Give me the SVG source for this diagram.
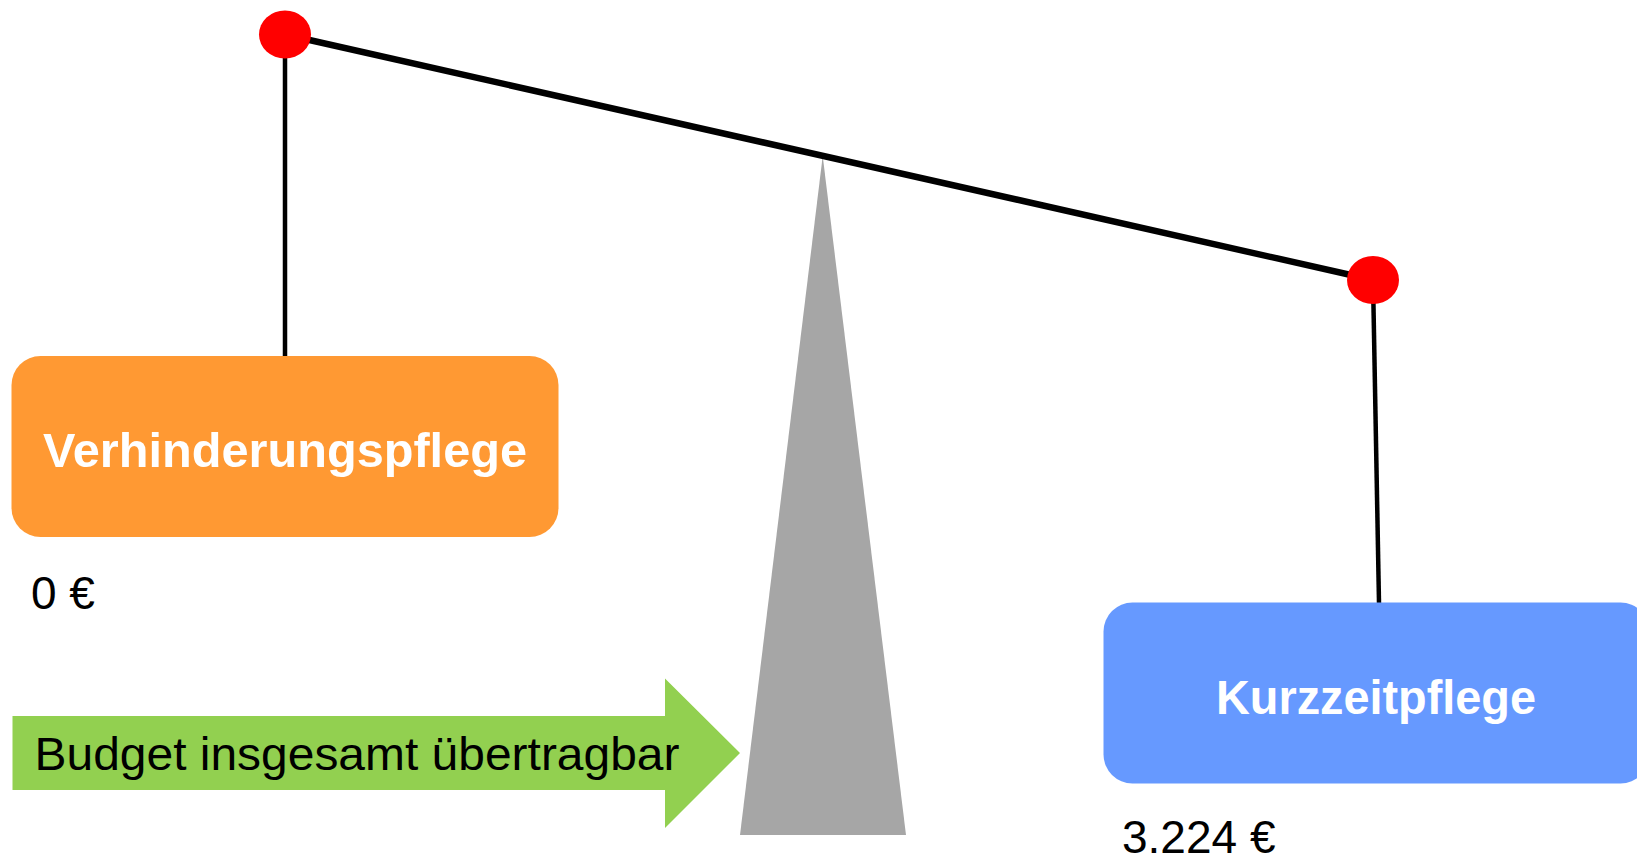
<svg xmlns="http://www.w3.org/2000/svg" width="1637" height="856" viewBox="0 0 1637 856">
<style>
.box-label{font-family:"Liberation Sans",Arial,sans-serif;font-weight:bold;font-size:49px;fill:#FFFFFF;text-anchor:middle}
.amount{font-family:"Liberation Sans",Arial,sans-serif;font-size:46px;fill:#000000}
.wire{stroke:#000000;stroke-width:4.5;fill:none}
.beam{stroke:#000000;stroke-width:6.5;fill:none}
.joint{fill:#FF0000}
</style>
<rect width="1637" height="856" fill="#FFFFFF"/>
<g id="fulcrum">
<polygon points="822.7,156 740,835 906,835" fill="#A6A6A6"/>
</g>
<g id="connectors">
<line class="wire" x1="285" y1="34.5" x2="285" y2="357"/>
<line class="wire" x1="1373" y1="280" x2="1379" y2="603"/>
<line class="beam" x1="285" y1="34.5" x2="1373" y2="280"/>
</g>
<g id="joint-left">
<ellipse class="joint" cx="285" cy="34.5" rx="26" ry="24"/>
</g>
<g id="joint-right">
<ellipse class="joint" cx="1373" cy="280" rx="26" ry="24"/>
</g>
<g id="verhinderungspflege">
<rect x="11.5" y="356" width="547" height="181" rx="29" ry="29" fill="#FF9933"/>
<text class="box-label" x="285" y="467" textLength="484" lengthAdjust="spacingAndGlyphs">Verhinderungspflege</text>
</g>
<g id="amount-left">
<text class="amount" x="31" y="609">0 €</text>
</g>
<g id="kurzzeitpflege">
<rect x="1103.5" y="602.5" width="546" height="181" rx="29" ry="29" fill="#6699FF"/>
<text class="box-label" x="1376" y="714" textLength="320" lengthAdjust="spacingAndGlyphs">Kurzzeitpflege</text>
</g>
<g id="amount-right">
<text class="amount" x="1122" y="853">3.224 €</text>
</g>
<g id="budget-arrow">
<polygon points="12.5,716 665,716 665,678.5 740,753 665,828 665,790 12.5,790" fill="#92D050"/>
<text class="amount" x="34.5" y="770" textLength="645" lengthAdjust="spacingAndGlyphs">Budget insgesamt übertragbar</text>
</g>
</svg>
